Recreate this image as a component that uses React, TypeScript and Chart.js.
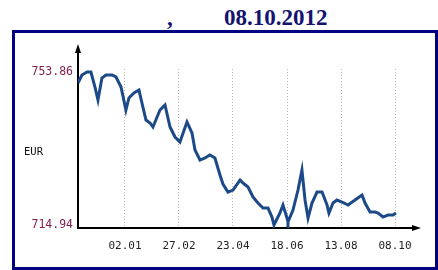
import React, { useEffect, useRef } from "react";
import { Chart, registerables } from "chart.js";
Chart.register(...registerables);

const TITLE_DATE = "08.10.2012";
const SERIES_LABEL = "EUR";
const TICK_DAYS = [0, 56, 112, 168, 224, 280];
const TICK_LABELS = ["02.01", "27.02", "23.04", "18.06", "13.08", "08.10"];
const Y_TICKS = [714.94, 753.86];

// days relative to 02.01
const DAYS = [
  -48.7, -44.6, -39.4, -35.3, -31.1, -28.0, -23.9, -19.7, -13.5, -9.3, -4.1, 1.0,
  4.1, 9.3, 14.5, 17.6, 21.8, 26.0, 29.0, 36.3, 41.5, 46.7, 51.9, 57.0,
  64.3, 69.5, 72.6, 77.8, 83.0, 88.1, 93.3, 98.5, 101.6, 106.8, 112.0, 119.3,
  122.4, 127.6, 132.7, 137.9, 143.1, 148.3, 152.4, 154.5, 160.7, 163.8, 168.0, 169.0,
  174.2, 179.4, 183.5, 186.7, 189.8, 193.9, 199.1, 204.3, 209.5, 211.5, 215.7, 219.8,
  225.0, 231.3, 238.5, 245.8, 248.9, 254.1, 259.3, 262.4, 267.6, 272.7, 277.9, 281.0,
];
const VALUES = [
  751.06, 753.1, 753.86, 753.86, 750.04, 746.74, 752.33, 753.1, 753.1, 752.59, 750.04, 744.19,
  747.25, 748.52, 749.28, 745.97, 741.65, 740.89, 739.87, 744.19, 745.46, 739.87, 737.32, 736.05,
  741.14, 738.34, 734.02, 731.47, 731.98, 732.74, 731.98, 727.66, 725.37, 723.33, 723.84, 726.38,
  725.62, 724.6, 722.06, 720.53, 719.26, 719.26, 716.97, 714.94, 718.01, 720.02, 716.72, 715.7,
  718.75, 723.84, 728.93, 721.3, 716.72, 720.53, 723.33, 723.33, 720.02, 717.99, 720.53, 721.3,
  720.79, 720.02, 721.3, 722.57, 720.53, 718.24, 718.24, 717.99, 716.97, 717.48, 717.48, 717.99,
];

const axesPlugin = {
  id: "axesArrows",
  beforeDatasetsDraw(chart: any) {
    const { ctx, chartArea } = chart;
    const l = chartArea.left;
    const b = chartArea.bottom;
    ctx.save();
    ctx.strokeStyle = "#000";
    ctx.fillStyle = "#000";
    ctx.lineWidth = 2;
    ctx.beginPath();
    ctx.moveTo(l, b);
    ctx.lineTo(l, 50);
    ctx.moveTo(l - 1, b);
    ctx.lineTo(416, b);
    ctx.stroke();
    ctx.beginPath();
    ctx.moveTo(l, 44);
    ctx.lineTo(l - 3, 53);
    ctx.lineTo(l + 3, 53);
    ctx.closePath();
    ctx.fill();
    ctx.beginPath();
    ctx.moveTo(421, b);
    ctx.lineTo(412, b - 3);
    ctx.lineTo(412, b + 3);
    ctx.closePath();
    ctx.fill();
    ctx.fillStyle = "#111";
    ctx.font = "10.5px 'DejaVu Sans Mono'";
    ctx.textBaseline = "middle";
    ctx.textAlign = "left";
    ctx.fillText(SERIES_LABEL, 24, 152);
    ctx.restore();
  },
};

export default function App() {
  const ref = useRef<HTMLCanvasElement>(null);
  useEffect(() => {
    const chart = new Chart(ref.current!, {
      type: "line",
      data: {
        datasets: [
          {
            data: DAYS.map((d, i) => ({ x: d, y: VALUES[i] })),
            borderColor: "#1c4a88",
            borderWidth: 3,
            pointRadius: 0,
            tension: 0,
            fill: false,
          },
        ],
      },
      options: {
        animation: false,
        responsive: false,
        devicePixelRatio: 1,
        layout: { padding: { top: 69, right: 26, left: 0, bottom: 0 } },
        plugins: { legend: { display: false }, tooltip: { enabled: false }, title: { display: false } },
        scales: {
          x: {
            type: "linear",
            min: -48.7,
            max: 297.6,
            afterBuildTicks: (s: any) => {
              s.ticks = TICK_DAYS.map((v) => ({ value: v }));
            },
            afterFit: (s: any) => {
              s.height = 42;
            },
            ticks: {
              autoSkip: false,
              maxRotation: 0,
              padding: 12,
              color: "#222",
              font: { family: "'DejaVu Sans Mono'", size: 11 },
              callback: (v: any) => TICK_LABELS[TICK_DAYS.indexOf(Number(v))] ?? "",
            },
            grid: { display: true, color: "#b8b8b8", lineWidth: 1, drawTicks: false },
            border: { display: false, dash: [1, 2] },
          },
          y: {
            min: 714.18,
            max: 754.62,
            afterBuildTicks: (s: any) => {
              s.ticks = Y_TICKS.map((v) => ({ value: v }));
            },
            afterFit: (s: any) => {
              s.width = 78;
            },
            ticks: {
              padding: 5,
              color: "#802050",
              font: { family: "'DejaVu Sans Mono'", size: 11.5 },
              callback: (v: any) => Number(v).toFixed(2),
            },
            grid: { display: false, drawTicks: false },
            border: { display: false },
          },
        },
      },
      plugins: [axesPlugin],
    });
    return () => chart.destroy();
  }, []);

  const titleFont: React.CSSProperties = {
    position: "absolute",
    fontFamily: "'Liberation Serif', serif",
    fontWeight: "bold",
    fontSize: 23,
    lineHeight: "23px",
    color: "#141470",
    top: 6,
    whiteSpace: "pre",
  };

  return (
    <div style={{ position: "fixed", left: 0, top: 0, width: 438, height: 270, background: "#fff", overflow: "hidden" }}>
      <span style={{ ...titleFont, left: 167 }}>,</span>
      <span style={{ ...titleFont, left: 224 }}>{TITLE_DATE}</span>
      <div
        style={{
          position: "absolute",
          left: 12,
          top: 30,
          width: 426,
          height: 240,
          border: "3px solid #000080",
          boxSizing: "border-box",
        }}
      />
      <canvas ref={ref} width={438} height={270} style={{ position: "absolute", left: 0, top: 0, width: 438, height: 270 }} />
    </div>
  );
}
